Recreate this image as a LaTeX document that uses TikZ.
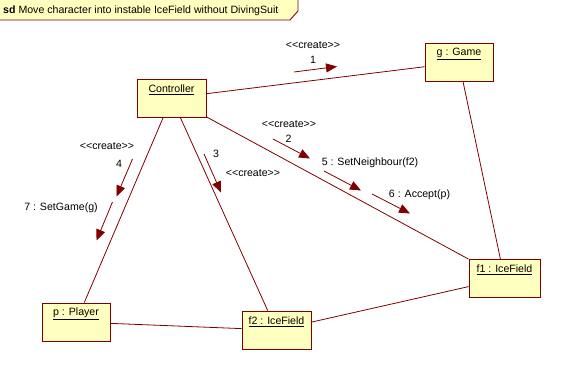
\documentclass[tikz,border=0pt]{standalone}
\usepackage{fontspec}
\setmainfont{Liberation Sans}
\usetikzlibrary{arrows.meta}
\definecolor{umlred}{RGB}{128,0,0}
\definecolor{umlfill}{RGB}{255,255,192}
\begin{document}
\begin{tikzpicture}[x=1pt,y=-1pt,
  every node/.style={font=\fontsize{10.6}{12}\selectfont, inner sep=0pt},
  obj/.style={draw=umlred, fill=umlfill, line width=0.9pt, rectangle,
              minimum width=#1, minimum height=38pt},
  link/.style={draw=umlred, line width=0.8pt},
  msg/.style={draw=umlred, line width=0.8pt,
              -{Triangle[length=11pt,width=9pt,fill=umlred]}},
  lbl/.style={text=black}
]
\useasboundingbox (0,0) rectangle (572,372);

% frame tab
\fill[umlfill] (0,0) -- (298,0) -- (298,11) -- (290,20) -- (0,20) -- cycle;
\draw[umlred, line width=0.9pt] (298,0) -- (298,11) -- (290,20) -- (0,20);
\node[anchor=west, lbl] (title) at (3,10.5) {\textbf{sd} Move character into instable IceField without DivingSuit};

% objects
\node[obj=69pt] (ctrl) at (171.5,98) {};
\node[obj=68pt] (game) at (459,62.5) {};
\node[obj=68pt] (player) at (76,322) {};
\node[obj=69pt] (f2) at (276.5,330) {};
\node[obj=71pt] (f1) at (504.5,278.5) {};

\node[lbl] (ctrlname) at ([yshift=-11pt]ctrl.north) {\underline{Controller}};
\node[lbl] (gamename) at ([yshift=-11pt]game.north) {\underline{g : Game}};
\node[lbl] (playername) at ([yshift=-11pt]player.north) {\underline{p : Player}};
\node[lbl] (f2name) at ([yshift=-11pt]f2.north) {\underline{f2 : IceField}};
\node[lbl] (f1name) at ([yshift=-11pt]f1.north) {\underline{f1 : IceField}};

% links
\draw[link] (ctrl) -- (game);
\draw[link] (ctrl) -- (f1);
\draw[link] (game) -- (f1);
\draw[link] (ctrl) -- (player);
\draw[link] (ctrl) -- (f2);
\draw[link] (player) -- (f2);
\draw[link] (f2) -- (f1);

% message end points
\coordinate (m1a) at (294,72);   \coordinate (m1b) at (337,66.5);
\coordinate (m2a) at (273,139);  \coordinate (m2b) at (310,158.5);
\coordinate (m5a) at (324,171);  \coordinate (m5b) at (361,190.5);
\coordinate (m6a) at (372,194);  \coordinate (m6b) at (410,213.5);
\coordinate (m3a) at (204,154);  \coordinate (m3b) at (221,192.5);
\coordinate (m4a) at (132.5,159); \coordinate (m4b) at (116.5,196.5);
\coordinate (m7a) at (112.5,202); \coordinate (m7b) at (96.5,240.5);

\draw[msg] (m1a) -- (m1b);
\draw[msg] (m2a) -- (m2b);
\draw[msg] (m5a) -- (m5b);
\draw[msg] (m6a) -- (m6b);
\draw[msg] (m3a) -- (m3b);
\draw[msg] (m4a) -- (m4b);
\draw[msg] (m7a) -- (m7b);

% message labels
\node[lbl] (c1) at (313,45) {<{}<create>{}>};
\node[lbl] (n1) at (313,60) {1};
\node[lbl] (c2) at (289,124) {<{}<create>{}>};
\node[lbl] (n2) at (288.5,139) {2};
\node[lbl] (n5) at (370,163) {5 : SetNeighbour(f2)};
\node[lbl] (n6) at (419.5,195) {6 : Accept(p)};
\node[lbl] (n3) at (216,154) {3};
\node[lbl] (c3) at (253,173) {<{}<create>{}>};
\node[lbl] (n4) at (119,164) {4};
\node[lbl] (c4) at (107,146) {<{}<create>{}>};
\node[lbl] (n7) at (61,208) {7 : SetGame(g)};
\end{tikzpicture}
\end{document}
